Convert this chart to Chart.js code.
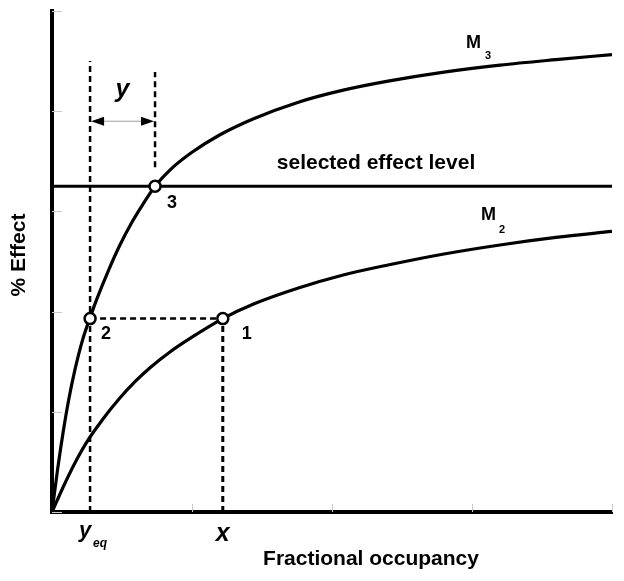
<!DOCTYPE html>
<html>
<head>
<meta charset="utf-8">
<script src="https://cdn.jsdelivr.net/npm/chart.js@4.4.1/dist/chart.umd.min.js"></script>
<style>
  html, body { margin: 0; padding: 0; background: #fff; }
  #wrap { width: 624px; height: 581px; }
</style>
</head>
<body>
<div id="wrap"><canvas id="chart"></canvas></div>
<script>
// curves (x = fractional occupancy 0..1, y = % effect 0..100)
const m3X = [0, 0.01, 0.02, 0.03, 0.041, 0.055, 0.068, 0.08, 0.1, 0.12, 0.14, 0.16, 0.184, 0.21, 0.25, 0.3, 0.36, 0.44, 0.52, 0.6, 0.7, 0.8, 0.9, 1.0];
const m3Y = [0, 8.5, 16, 22.5, 28.4, 34.5, 38.8, 42.5, 48, 53, 57.3, 61, 65, 68.2, 71.8, 75.3, 78.5, 81.8, 84.2, 86, 87.8, 89.2, 90.3, 91.3];
const m2X = [0, 0.02, 0.04, 0.064, 0.09, 0.12, 0.15, 0.175, 0.21, 0.25, 0.305, 0.36, 0.44, 0.52, 0.6, 0.7, 0.8, 0.9, 1.0];
const m2Y = [0, 5, 9.6, 14.3, 18.4, 22.6, 26.2, 28.8, 31.9, 34.9, 38.6, 41.5, 44.7, 47.3, 49.3, 51.5, 53.3, 54.8, 56];
const effectLevel = 65;

// marked points 1, 2, 3
const pointLabels = ['1', '2', '3'];
const pointX = [0.305, 0.068, 0.184];
const pointY = [38.6, 38.6, 65];

// dashed guide lines: [x1, y1, x2, y2]
const guides = [
  [0.068, 0, 0.068, 90],
  [0.184, 68.8, 0.184, 87.8],
  [0.305, 0, 0.305, 38.6],
  [0.068, 38.6, 0.305, 38.6]
];
const arrowY = 78;

const xTicks = [0, 0.25, 0.5, 0.75, 1];
const yTicks = [0, 20, 40, 60, 80, 100];

const FONT = '"Liberation Sans", Arial, Helvetica, sans-serif';

function pts(xs, ys) { return xs.map((x, i) => ({x: x, y: ys[i]})); }

const curve = {
  showLine: true, borderColor: '#000', borderWidth: 3.2, pointRadius: 0,
  cubicInterpolationMode: 'monotone', fill: false
};

const datasets = [
  {
    label: 'points', data: pts(pointX, pointY), showLine: false,
    pointRadius: 5.5, pointBorderWidth: 2.5, pointBorderColor: '#000',
    pointBackgroundColor: '#fff', pointHoverRadius: 5.5
  },
  Object.assign({label: 'M3', data: pts(m3X, m3Y)}, curve),
  Object.assign({label: 'M2', data: pts(m2X, m2Y)}, curve),
  {
    label: 'selected effect level', data: [{x: 0, y: effectLevel}, {x: 1, y: effectLevel}],
    showLine: true, borderColor: '#000', borderWidth: 3, pointRadius: 0
  }
];
guides.forEach((g, i) => {
  datasets.push({
    label: 'guide' + i, data: [{x: g[0], y: g[1]}, {x: g[2], y: g[3]}],
    showLine: true, borderColor: '#000', borderWidth: i === 2 ? 3 : 2.5,
    borderDash: [6, 4], pointRadius: 0
  });
});

const decor = {
  id: 'decor',
  beforeDatasetsDraw(chart) {
    const {ctx, scales: {x, y}} = chart;
    ctx.save();
    ctx.strokeStyle = '#c8c8c8';
    ctx.lineWidth = 1;
    yTicks.forEach(v => {
      const py = Math.round(y.getPixelForValue(v)) + 0.5;
      ctx.beginPath(); ctx.moveTo(x.left, py); ctx.lineTo(x.left + 10, py); ctx.stroke();
    });
    xTicks.forEach(v => {
      const px = Math.round(x.getPixelForValue(v)) + 0.5;
      ctx.beginPath(); ctx.moveTo(px, y.bottom); ctx.lineTo(px, y.bottom - 8); ctx.stroke();
    });
    ctx.restore();
  },
  afterDraw(chart) {
    const {ctx, scales: {x, y}} = chart;
    const X = v => x.getPixelForValue(v), Y = v => y.getPixelForValue(v);
    ctx.save();
    ctx.fillStyle = '#000';
    ctx.textBaseline = 'alphabetic';

    // axis titles
    ctx.font = 'bold 21px ' + FONT;
    ctx.textAlign = 'center';
    ctx.fillText('Fractional occupancy', 371, 565);
    ctx.save();
    ctx.translate(25, 255);
    ctx.rotate(-Math.PI / 2);
    ctx.fillText('% Effect', 0, 0);
    ctx.restore();

    // selected effect level label
    ctx.font = 'bold 21px ' + FONT;
    ctx.fillText('selected effect level', 376, Y(effectLevel) - 17);

    // curve labels
    ctx.textAlign = 'left';
    ctx.font = 'bold 18px ' + FONT;
    ctx.fillText('M', 466, 48);
    ctx.fillText('M', 481, 220);
    ctx.font = 'bold 11px ' + FONT;
    ctx.fillText('3', 485, 59);
    ctx.fillText('2', 499, 233);

    // point numbers
    ctx.font = 'bold 18px ' + FONT;
    const offs = [[19, 20], [11, 20], [12, 22]];
    pointLabels.forEach((t, i) => {
      ctx.fillText(t, X(pointX[i]) + offs[i][0], Y(pointY[i]) + offs[i][1]);
    });

    // y gap arrow
    const ax1 = X(guides[0][0]) + 1, ax2 = X(guides[1][0]) - 1, ay = Y(arrowY);
    ctx.strokeStyle = '#a0a0a0';
    ctx.lineWidth = 1;
    ctx.beginPath(); ctx.moveTo(ax1 + 8, ay); ctx.lineTo(ax2 - 8, ay); ctx.stroke();
    ctx.beginPath();
    ctx.moveTo(ax1, ay); ctx.lineTo(ax1 + 13, ay - 4.5); ctx.lineTo(ax1 + 13, ay + 4.5); ctx.closePath();
    ctx.moveTo(ax2, ay); ctx.lineTo(ax2 - 13, ay - 4.5); ctx.lineTo(ax2 - 13, ay + 4.5); ctx.closePath();
    ctx.fill();
    ctx.textAlign = 'center';
    ctx.font = 'italic bold 25px ' + FONT;
    ctx.fillText('y', (ax1 + ax2) / 2, ay - 24);

    // x-axis markers
    ctx.font = 'italic bold 22px ' + FONT;
    ctx.fillText('y', X(guides[0][0]) - 5, 537);
    ctx.font = 'italic bold 12px ' + FONT;
    ctx.fillText('eq', X(guides[0][0]) + 10, 547);
    ctx.font = 'italic bold 25px ' + FONT;
    ctx.fillText('x', X(guides[2][0]), 541);
    ctx.restore();
  }
};

new Chart(document.getElementById('chart'), {
  type: 'scatter',
  data: {datasets: datasets},
  options: {
    responsive: true,
    maintainAspectRatio: false,
    animation: false,
    layout: {padding: {left: 52, right: 12, top: 11, bottom: 69}},
    plugins: {legend: {display: false}, tooltip: {enabled: false}},
    scales: {
      x: {
        type: 'linear', min: 0, max: 1,
        ticks: {display: false},
        grid: {display: false, drawTicks: false},
        border: {display: true, color: '#000', width: 4}
      },
      y: {
        type: 'linear', min: 0, max: 100,
        ticks: {display: false},
        grid: {display: false, drawTicks: false},
        border: {display: true, color: '#000', width: 4}
      }
    }
  },
  plugins: [decor]
});
</script>
</body>
</html>
